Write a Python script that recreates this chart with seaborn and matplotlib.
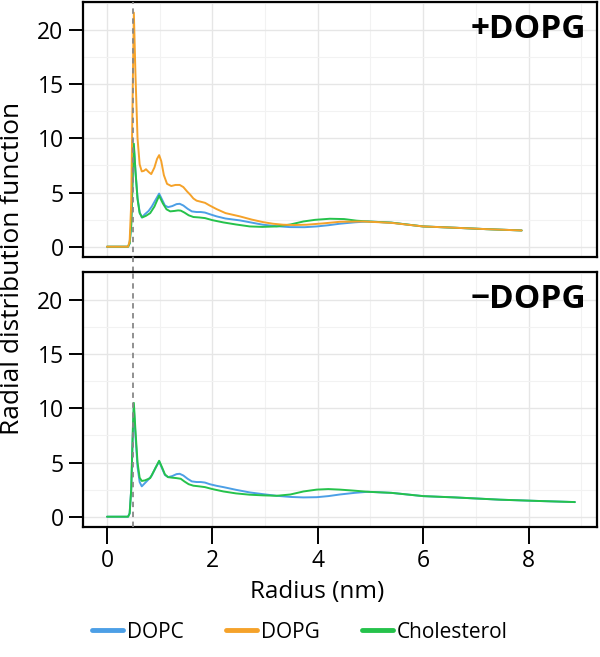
import numpy as np
import pandas as pd
import matplotlib
matplotlib.use("Agg")
import matplotlib.pyplot as plt
from matplotlib.lines import Line2D
import seaborn as sns

# ---------------- data ----------------
lipids = ["DOPC", "DOPG", "Cholesterol"]
colors = {"DOPC": "#4C9FE6", "DOPG": "#F5A22A", "Cholesterol": "#25C24B"}
panel_labels = ["+DOPG", "\u2212DOPG"]
ref_radius = 0.5
x_ticks = [0, 2, 4, 6, 8]
y_ticks = [0, 5, 10, 15, 20]

# +DOPG panel
plus_dopg_r = [0, 0.40, 0.43, 0.46, 0.49, 0.51, 0.54, 0.58, 0.62, 0.66, 0.70, 0.74, 0.79,
               0.84, 0.90, 0.95, 0.99, 1.03, 1.08, 1.14, 1.22, 1.30, 1.38, 1.45, 1.52, 1.58,
               1.64, 1.70, 1.78, 1.86, 1.95, 2.08, 2.25, 2.52, 2.75, 2.96, 3.15, 3.34, 3.55,
               3.79, 4.10, 4.42, 4.87, 5.40, 6.00, 6.60, 7.20, 7.87]
plus_dopg_g = [0, 0, 0.5, 4, 15, 21.6, 16, 10, 7.6, 6.95, 7.0, 7.15, 6.9,
               6.7, 7.3, 8.1, 8.45, 7.9, 6.6, 5.8, 5.6, 5.7, 5.7, 5.5, 5.1, 4.8,
               4.45, 4.25, 4.15, 4.05, 3.8, 3.47, 3.1, 2.8, 2.5, 2.27, 2.12, 2.03, 2.0,
               2.03, 2.15, 2.3, 2.33, 2.2, 1.87, 1.75, 1.62, 1.5]

plus_dopc_r = [0, 0.40, 0.43, 0.46, 0.49, 0.51, 0.54, 0.58, 0.62, 0.66, 0.72, 0.79, 0.85,
               0.92, 0.99, 1.05, 1.10, 1.16, 1.24, 1.32, 1.38, 1.45, 1.53, 1.61, 1.70, 1.78,
               1.86, 1.95, 2.08, 2.25, 2.52, 2.75, 2.96, 3.20, 3.47, 3.75, 3.98, 4.20, 4.42,
               4.70, 4.95, 5.40, 6.00, 6.60, 7.20, 7.87]
plus_dopc_g = [0, 0, 0.3, 2, 6.5, 9.2, 7, 4.5, 3.2, 2.7, 3.0, 3.3, 3.7,
               4.3, 4.9, 4.3, 3.8, 3.65, 3.75, 3.93, 3.96, 3.8, 3.5, 3.26, 3.2, 3.2,
               3.15, 3.0, 2.8, 2.6, 2.43, 2.22, 2.03, 1.9, 1.81, 1.8, 1.87, 1.98, 2.12,
               2.25, 2.33, 2.22, 1.87, 1.75, 1.62, 1.5]

plus_chol_r = [0, 0.40, 0.43, 0.46, 0.49, 0.51, 0.54, 0.58, 0.62, 0.67, 0.74, 0.82, 0.90,
               0.99, 1.06, 1.13, 1.20, 1.28, 1.35, 1.40, 1.47, 1.55, 1.64, 1.75, 1.86, 2.00,
               2.21, 2.45, 2.71, 2.95, 3.22, 3.48, 3.73, 3.95, 4.23, 4.50, 4.74, 4.95, 5.40,
               6.00, 6.60, 7.20, 7.87]
plus_chol_g = [0, 0, 0.3, 2, 7, 9.5, 7, 4.4, 3.1, 2.7, 2.85, 3.1, 3.7,
               4.7, 4.0, 3.45, 3.26, 3.3, 3.35, 3.33, 3.15, 2.9, 2.74, 2.7, 2.64, 2.45,
               2.24, 2.05, 1.87, 1.83, 1.87, 2.05, 2.33, 2.48, 2.58, 2.55, 2.4, 2.33, 2.22,
               1.87, 1.75, 1.62, 1.5]

# -DOPG panel
minus_dopc_r = [0, 0.40, 0.43, 0.46, 0.49, 0.51, 0.54, 0.58, 0.62, 0.66, 0.72, 0.79, 0.85,
                0.92, 0.99, 1.05, 1.10, 1.16, 1.24, 1.32, 1.38, 1.45, 1.53, 1.61, 1.70, 1.78,
                1.86, 1.95, 2.08, 2.21, 2.45, 2.71, 2.96, 3.22, 3.50, 3.73, 3.98, 4.20, 4.42,
                4.70, 4.95, 5.40, 6.00, 6.60, 7.46, 8.20, 8.88]
minus_dopc_g = [0, 0, 0.3, 2.5, 7.5, 10.0, 7.5, 4.6, 3.2, 2.8, 3.1, 3.45, 3.8,
                4.5, 5.1, 4.4, 3.85, 3.65, 3.75, 3.93, 3.96, 3.8, 3.5, 3.26, 3.2, 3.2,
                3.15, 3.0, 2.85, 2.73, 2.48, 2.24, 2.08, 1.93, 1.82, 1.78, 1.8, 1.9, 2.05,
                2.2, 2.3, 2.2, 1.9, 1.78, 1.57, 1.45, 1.35]

minus_chol_r = [0, 0.40, 0.43, 0.46, 0.49, 0.51, 0.54, 0.58, 0.62, 0.66, 0.72, 0.82, 0.90,
                0.99, 1.05, 1.10, 1.16, 1.24, 1.32, 1.40, 1.47, 1.55, 1.64, 1.75, 1.86, 2.00,
                2.21, 2.45, 2.71, 2.96, 3.22, 3.48, 3.73, 3.98, 4.20, 4.42, 4.70, 4.95, 5.40,
                6.00, 6.60, 7.46, 8.20, 8.88]
minus_chol_g = [0, 0, 0.3, 2.5, 8, 10.5, 8, 5, 3.6, 3.3, 3.35, 3.56, 4.3,
                5.16, 4.5, 3.9, 3.65, 3.6, 3.56, 3.5, 3.25, 3.0, 2.86, 2.8, 2.73, 2.55,
                2.33, 2.15, 2.03, 1.97, 1.93, 2.05, 2.33, 2.5, 2.55, 2.5, 2.4, 2.3, 2.2,
                1.9, 1.78, 1.57, 1.45, 1.35]

# ---------------- build tables ----------------
def frame(panel, lipid, r, g):
    return pd.DataFrame({"panel": panel, "lipid": lipid, "r": r, "g": g})

df = pd.concat([
    frame("+DOPG", "DOPC", plus_dopc_r, plus_dopc_g),
    frame("+DOPG", "Cholesterol", plus_chol_r, plus_chol_g),
    frame("+DOPG", "DOPG", plus_dopg_r, plus_dopg_g),
    frame("\u2212DOPG", "DOPC", minus_dopc_r, minus_dopc_g),
    frame("\u2212DOPG", "Cholesterol", minus_chol_r, minus_chol_g),
], ignore_index=True)

# ---------------- style ----------------
sns.set_theme(style="white")
plt.rcParams["font.family"] = ["Open Sans", "DejaVu Sans"]
plt.rcParams["text.color"] = "black"
plt.rcParams["xtick.color"] = "black"
plt.rcParams["ytick.color"] = "black"
plt.rcParams["axes.labelcolor"] = "black"

W, H = 600, 657
fig = plt.figure(figsize=(W / 100, H / 100), dpi=100)

def rect(l, t, r, b):
    return [l / W, 1 - b / H, (r - l) / W, (b - t) / H]

ax_top = fig.add_axes(rect(83, 2, 597, 257))
ax_bot = fig.add_axes(rect(83, 272, 597, 527))

draw_order = ["DOPC", "Cholesterol", "DOPG"]
for ax, panel in zip([ax_top, ax_bot], panel_labels):
    sub = df[df["panel"] == panel]
    present = [l for l in draw_order if l in sub["lipid"].unique()]
    sns.lineplot(data=sub, x="r", y="g", hue="lipid", hue_order=present,
                 palette=colors, estimator=None, sort=False, lw=1.4,
                 legend=False, ax=ax)
    ax.set_xlim(-0.455, 9.3)
    ax.set_ylim(-0.95, 22.58)
    ax.set_xticks(x_ticks)
    ax.set_yticks(y_ticks)
    ax.set_xticks([1, 3, 5, 7, 9], minor=True)
    ax.set_yticks([2.5, 7.5, 12.5, 17.5, 22.5], minor=True)
    ax.grid(True, which="major", color="#E6E6E6", lw=1.0)
    ax.grid(True, which="minor", color="#F2F2F2", lw=0.8)
    ax.set_axisbelow(True)
    for s in ax.spines.values():
        s.set_visible(True)
        s.set_color("black")
        s.set_linewidth(1.6)
    ax.tick_params(axis="y", which="major", length=10, width=1.4, color="black",
                   labelcolor="black", labelsize=16.5, pad=4, left=True)
    ax.tick_params(which="minor", length=0)
    ax.set_xlabel("")
    ax.set_ylabel("")
    ax.text(0.978, 0.955, panel, transform=ax.transAxes, ha="right", va="top",
            fontsize=24, fontweight="bold", color="black")

ax_top.tick_params(axis="x", which="major", length=0, labelbottom=False)
ax_bot.tick_params(axis="x", which="major", length=12, width=1.4, color="black",
                   labelcolor="black", labelsize=16.5, pad=4, bottom=True)

# reference line at contact radius
gap = (272 - 257) / 255
ax_top.axvline(ref_radius, ymin=-gap, ymax=1, color="#888888", lw=1.3,
               ls=(0, (3, 2.5)), clip_on=False, zorder=5)
ax_bot.axvline(ref_radius, ymin=0, ymax=1, color="#888888", lw=1.3,
               ls=(0, (3, 2.5)), zorder=5)

fig.text(317 / W, 1 - 592 / H, "Radius (nm)", ha="center", va="center",
         fontsize=17.5, color="black")
fig.text(13 / W, 1 - 268 / H, "Radial distribution function", ha="center",
         va="center", rotation=90, fontsize=19, color="black")

handles = [Line2D([0], [0], color=colors[l], lw=3.5) for l in lipids]
fig.legend(handles, lipids, loc="center", bbox_to_anchor=(0.5, 1 - 632 / H),
           ncol=3, frameon=False, fontsize=15, handlelength=1.5,
           handletextpad=0.2, columnspacing=2.0, labelcolor="black")

fig.savefig("out.png", dpi=100)
